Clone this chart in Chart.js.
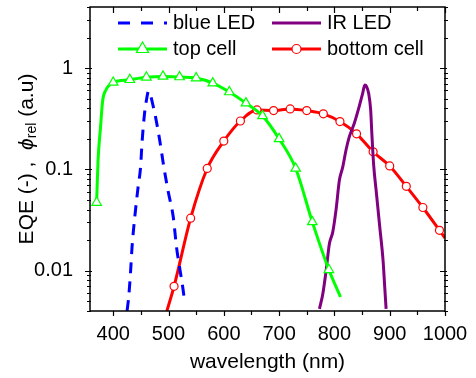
<!DOCTYPE html>
<html lang="en">
<head>
    <meta charset="UTF-8">
    <title>EQE and LED spectra</title>
    <script src="https://cdn.jsdelivr.net/npm/chart.js"></script>
    <style>
        body { margin: 0; background: #fff; }
    </style>
</head>
<body>
    <canvas id="eqeChart" width="476" height="378"></canvas>
    <script>
        // values (wavelength in nm, y on log scale)
        var blueNm  = [425, 428, 431.5, 434, 439, 445, 449.5, 452, 456, 460, 464, 467, 471, 476, 484, 491, 499.5, 508.5, 514.5, 521, 528, 529];
        var blueVal = [0.004, 0.0055, 0.01, 0.017, 0.034, 0.067, 0.106, 0.18, 0.33, 0.48, 0.59, 0.55, 0.45, 0.34, 0.195, 0.11, 0.06, 0.034, 0.017, 0.01, 0.0055, 0.0048];

        var topNm  = [370, 372.5, 377, 381, 387, 392, 400, 430, 460, 490, 520, 550, 580, 610, 640, 670, 700, 730, 760, 790, 811];
        var topVal = [0.047, 0.12, 0.26, 0.48, 0.61, 0.67, 0.72, 0.766, 0.81, 0.826, 0.815, 0.796, 0.71, 0.58, 0.45, 0.337, 0.2, 0.102, 0.0303, 0.0102, 0.0055];
        var topMarks = [370, 400, 430, 460, 490, 520, 550, 580, 610, 640, 670, 700, 730, 760, 790];

        var irNm  = [773, 779, 785, 791, 797, 803, 809, 815, 821, 827, 836, 845, 851, 855, 858, 862, 865.5, 868, 871, 876, 882, 888, 891, 893.5];
        var irVal = [0.0042, 0.0059, 0.01, 0.0185, 0.024, 0.04, 0.078, 0.105, 0.155, 0.21, 0.285, 0.42, 0.56, 0.68, 0.66, 0.56, 0.39, 0.21, 0.11, 0.058, 0.027, 0.0126, 0.0069, 0.0042];

        var bottomNm  = [497, 510, 540, 570, 600, 630, 660, 690, 720, 750, 780, 810, 840, 870, 900, 930, 960, 990, 1000];
        var bottomVal = [0.004, 0.007, 0.033, 0.102, 0.19, 0.30, 0.386, 0.38, 0.395, 0.38, 0.353, 0.296, 0.224, 0.149, 0.108, 0.068, 0.042, 0.025, 0.021];
        var bottomMarks = [510, 540, 570, 600, 630, 660, 690, 720, 750, 780, 810, 840, 870, 900, 930, 960, 990];

        var xTicks = [400, 500, 600, 700, 800, 900, 1000];
        var yTicks = [0.01, 0.1, 1];
        var yLabels = ['0.01', '0.1', '1'];

        var FONT = "'Liberation Sans', Arial, sans-serif";

        function pts(xs, ys) {
            return xs.map(function (x, i) { return { x: x, y: ys[i] }; });
        }
        function markerRadius(marks, r) {
            return function (c) { return c.raw && marks.indexOf(c.raw.x) >= 0 ? r : 0; };
        }

        var frame = {
            id: 'frame',
            afterDraw: function (chart) {
                var ctx = chart.ctx, a = chart.chartArea;
                var xs = chart.scales.x, ys = chart.scales.y;
                ctx.save();
                ctx.strokeStyle = '#000';
                ctx.lineWidth = 1.5;
                ctx.strokeRect(a.left, a.top, a.right - a.left, a.bottom - a.top);
                ctx.lineWidth = 1.2;
                ctx.beginPath();
                for (var v = 400; v <= 1000; v += 50) {
                    var px = Math.round(xs.getPixelForValue(v)) + 0.5;
                    var major = v % 100 === 0;
                    ctx.moveTo(px, a.bottom); ctx.lineTo(px, a.bottom + (major ? 5 : 4));
                    ctx.moveTo(px, a.top); ctx.lineTo(px, a.top + (major ? 6 : 4));
                }
                for (var e = -3; e <= 0; e++) {
                    for (var k = 1; k <= 9; k++) {
                        var val = k * Math.pow(10, e);
                        if (val < ys.min * 0.999 || val > ys.max * 1.001) continue;
                        var py = Math.round(ys.getPixelForValue(val)) + 0.5;
                        if (k === 1) {
                            ctx.moveTo(a.left - 5, py); ctx.lineTo(a.left + 2, py);
                            ctx.moveTo(a.right - 5, py); ctx.lineTo(a.right + 2, py);
                        } else {
                            ctx.moveTo(a.left - 3, py); ctx.lineTo(a.left + 1, py);
                            ctx.moveTo(a.right - 1, py); ctx.lineTo(a.right + 3, py);
                        }
                    }
                }
                ctx.stroke();

                // y axis title with italic phi and subscript
                var parts = [
                    ['EQE (-) ,  ', '21px ' + FONT, 0],
                    ['\u03D5', 'italic 21px ' + FONT, 0],
                    ['rel', '14px ' + FONT, 3],
                    [' (a.u)', '21px ' + FONT, 0]
                ];
                ctx.translate(33, (a.top + a.bottom) / 2);
                ctx.rotate(-Math.PI / 2);
                var total = 0;
                parts.forEach(function (p) { ctx.font = p[1]; total += ctx.measureText(p[0]).width; });
                var tx = -total / 2;
                ctx.fillStyle = '#000';
                ctx.textAlign = 'left';
                ctx.textBaseline = 'alphabetic';
                parts.forEach(function (p) {
                    ctx.font = p[1];
                    ctx.fillText(p[0], tx, p[2]);
                    tx += ctx.measureText(p[0]).width;
                });
                ctx.restore();
            }
        };

        var legendBox = {
            id: 'legendBox',
            afterDraw: function (chart) {
                var ctx = chart.ctx;
                var spots = [
                    { ds: 0, x: 118, y: 23 },
                    { ds: 2, x: 272, y: 23 },
                    { ds: 1, x: 118, y: 49 },
                    { ds: 3, x: 272, y: 49 }
                ];
                ctx.save();
                spots.forEach(function (s) {
                    var d = chart.data.datasets[s.ds];
                    ctx.strokeStyle = d.borderColor;
                    ctx.lineWidth = d.borderWidth;
                    ctx.setLineDash(d.borderDash ? [12, 11] : []);
                    ctx.beginPath();
                    ctx.moveTo(s.x, s.y); ctx.lineTo(s.x + 49, s.y);
                    ctx.stroke();
                    ctx.setLineDash([]);
                    if (d.legendMarker) {
                        ctx.fillStyle = '#fff';
                        ctx.strokeStyle = d.borderColor;
                        ctx.lineWidth = d.pointBorderWidth;
                        Chart.helpers.drawPoint(ctx, {
                            pointStyle: d.pointStyle,
                            radius: d.legendMarker,
                            borderWidth: d.pointBorderWidth
                        }, s.x + 24.5, s.y);
                    }
                    ctx.fillStyle = '#000';
                    ctx.font = '20px ' + FONT;
                    ctx.textAlign = 'left';
                    ctx.textBaseline = 'middle';
                    ctx.fillText(d.label, s.x + 55, s.y);
                });
                ctx.restore();
            }
        };

        new Chart(document.getElementById('eqeChart').getContext('2d'), {
            type: 'line',
            data: {
                datasets: [{
                    label: 'blue LED',
                    data: pts(blueNm, blueVal),
                    borderColor: '#0000ff',
                    borderWidth: 3,
                    borderDash: [11, 8],
                    pointRadius: 0
                }, {
                    label: 'top cell',
                    data: pts(topNm, topVal),
                    borderColor: '#00ff00',
                    borderWidth: 3,
                    pointStyle: 'triangle',
                    pointRadius: markerRadius(topMarks, 5.5),
                    pointBackgroundColor: '#fff',
                    pointBorderColor: '#00ff00',
                    pointBorderWidth: 1.2,
                    legendMarker: 7
                }, {
                    label: 'IR LED',
                    data: pts(irNm, irVal),
                    borderColor: '#800080',
                    borderWidth: 3,
                    pointRadius: 0
                }, {
                    label: 'bottom cell',
                    data: pts(bottomNm, bottomVal),
                    borderColor: '#ff0000',
                    borderWidth: 3,
                    pointStyle: 'circle',
                    pointRadius: markerRadius(bottomMarks, 4),
                    pointBackgroundColor: '#fff',
                    pointBorderColor: '#ff0000',
                    pointBorderWidth: 1.2,
                    legendMarker: 4.5
                }]
            },
            options: {
                responsive: false,
                animation: false,
                cubicInterpolationMode: 'monotone',
                layout: { padding: { top: 7, right: 31, bottom: 0, left: 0 } },
                plugins: { legend: { display: false }, tooltip: { enabled: false } },
                scales: {
                    x: {
                        type: 'linear',
                        min: 358,
                        max: 1000,
                        grid: { display: false },
                        border: { display: false },
                        ticks: {
                            stepSize: 100,
                            includeBounds: false,
                            autoSkip: false,
                            maxRotation: 0,
                            padding: 3,
                            color: '#000',
                            font: { family: FONT, size: 20 },
                            callback: function (v) { return xTicks.indexOf(v) >= 0 ? String(v) : null; }
                        },
                        title: {
                            display: true,
                            text: 'wavelength (nm)',
                            color: '#000',
                            font: { family: FONT, size: 21 },
                            padding: { top: 0, bottom: 3 }
                        },
                        afterFit: function (s) { s.height = 67; s.paddingLeft = 0; s.paddingRight = 0; }
                    },
                    y: {
                        type: 'logarithmic',
                        min: 0.004,
                        max: 4,
                        grid: { display: false },
                        border: { display: false },
                        ticks: {
                            autoSkip: false,
                            padding: 9,
                            color: '#000',
                            font: { family: FONT, size: 20 },
                            callback: function (v) {
                                for (var i = 0; i < yTicks.length; i++) {
                                    if (Math.abs(v / yTicks[i] - 1) < 1e-6) return yLabels[i];
                                }
                                return '';
                            }
                        },
                        afterFit: function (s) { s.width = 90; s.paddingTop = 0; s.paddingBottom = 0; }
                    }
                }
            },
            plugins: [frame, legendBox]
        });
    </script>
</body>
</html>
